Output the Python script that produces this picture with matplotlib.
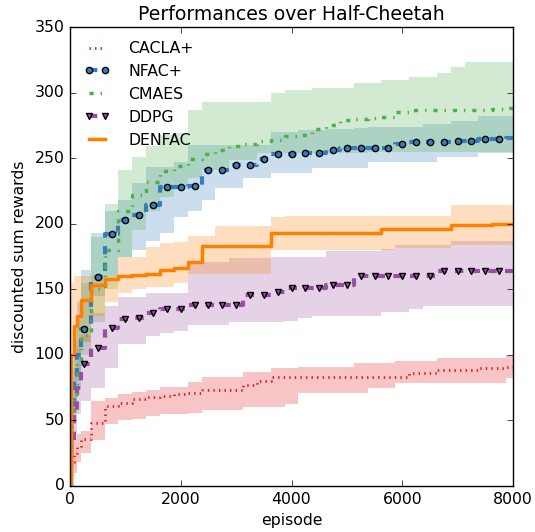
import matplotlib
matplotlib.use('Agg')
import matplotlib.pyplot as plt

# episodes at which the curves are sampled
episodes = [0, 50, 100, 150, 250, 500, 750, 1000, 1250, 1500, 1750, 2000, 2250, 2500,
            2750, 3000, 3250, 3500, 3750, 4000, 4250, 4500, 4750, 5000, 5250, 5500,
            5750, 6000, 6250, 6500, 6750, 7000, 7250, 7500, 7750, 8000]

# CACLA+
cacla = [0, 18, 25, 30, 36, 48, 61, 63.5, 66, 67.5, 68.5, 70, 71, 73, 73, 73, 77, 80,
         83.4, 83.4, 83.4, 83.4, 83.4, 83.4, 83.4, 83.4, 83.4, 83.4, 86, 86, 88.5, 88.5,
         88.5, 89.8, 90, 91]
cacla_low = [0, 5, 10, 18, 25, 35, 47, 50, 51, 53, 55, 55, 56, 58, 58, 58, 60.5, 60.5,
             60.5, 62.6, 70.7, 70.7, 70.7, 70.7, 70.7, 74.5, 74.5, 78.4, 78.4, 78.4, 78.4,
             78.4, 78.4, 78.4, 78.4, 82]
cacla_high = [5, 30, 36, 40, 42, 65, 67, 70, 72, 73, 75.7, 75.7, 79.6, 83.4, 83.4, 83.4,
              87, 87, 89.8, 89.8, 90.6, 90.6, 90.6, 91, 93.6, 93.6, 93.6, 95.3, 95.3, 95.3,
              97.4, 97.4, 97.4, 97.4, 97.4, 100]

# NFAC+
nfac = [0, 55, 80, 100, 120, 159, 192, 203, 207, 214, 228, 228, 229, 241, 241, 245, 245,
        249, 253, 253, 254, 254, 256, 258, 258, 258, 258, 261, 262, 262.5, 262.5, 263,
        263, 264.5, 264.5, 265]
nfac_low = [0, 30, 60, 80, 110, 145, 160, 175, 180, 187, 193, 205, 210, 218, 227, 227,
            234.6, 234.6, 238.5, 238.5, 239, 242.3, 242.3, 242.3, 242.3, 247.4, 247.4,
            247.4, 247.4, 247.4, 251, 251, 251, 253.7, 253.7, 253.7]
nfac_high = [10, 90, 120, 140, 165, 193, 210, 218, 231, 243.6, 243.6, 247, 260, 260, 260,
             260, 260, 260, 270, 270, 271.5, 271.5, 272, 272, 273, 274, 274, 274, 274, 276,
             276, 278, 278, 282.5, 282.5, 282.5]

# CMAES
cmaes = [0, 45, 70, 95, 115, 150, 180, 210, 222, 232, 240, 244, 249, 253, 256, 259, 261,
         263, 264, 267, 268, 272, 275, 279, 280, 280.5, 281, 285, 286.5, 286.8, 286.8,
         286.8, 286.8, 287, 287.5, 288]
cmaes_low = [0, 30, 55, 75, 100, 125, 150, 175, 195, 210, 220, 228, 235, 241, 241, 248.7,
             248.7, 253.7, 253.7, 253.7, 253.7, 254, 254, 254, 254, 254.5, 254.5, 255, 255,
             255, 255, 255, 255, 255, 255, 255]
cmaes_high = [10, 80, 110, 130, 155, 190, 215, 241, 251, 259, 268, 269, 287, 293, 293,
              293, 293, 293, 299.5, 302, 302, 303.3, 303.3, 303.3, 307.5, 307.5, 309.7,
              309.7, 311.7, 311.7, 314.8, 319.8, 323.6, 323.6, 323.6, 323.6]

# DDPG
ddpg = [0, 30, 55, 75, 93, 105, 120.8, 127, 128.4, 131.7, 135, 135, 138, 138, 138, 138,
        145.7, 145.7, 148, 151, 151, 151, 153, 153, 160.4, 160.4, 160.4, 160.4, 160.4,
        160.4, 164, 164, 164, 164, 164, 164]
ddpg_low = [0, 20, 40, 55, 65, 75, 90, 108, 108, 114, 117, 118, 123, 123, 123, 125, 125,
            125, 125, 126, 128, 129.7, 129.7, 129.7, 129.7, 129.7, 133, 133, 134.8, 137.3,
            137.3, 137.3, 137.3, 137.3, 137.3, 137.3]
ddpg_high = [10, 60, 90, 105, 115, 132, 137, 144, 144, 147, 147, 147, 171, 171, 171, 174,
             174, 174, 175, 175, 175, 175, 179.5, 179.5, 179.5, 179.5, 181, 184, 184, 184,
             184, 187, 187, 187, 187, 187]

# DENFAC
denfac = [0, 100, 122, 130, 142, 153, 158, 160, 161, 162, 165, 166, 171, 183, 183, 183,
          183, 183, 192.7, 192.7, 192.7, 192.7, 192.7, 192.7, 192.7, 192.7, 196.3, 196.3,
          196.3, 196.3, 196.3, 198.8, 198.8, 198.8, 200, 200]
denfac_low = [0, 60, 85, 100, 110, 130, 140, 147, 150, 152, 152, 155, 162, 162, 162, 162,
              162, 162, 180, 180, 180, 180, 180, 180, 180, 180, 180, 181.3, 181.3, 181.3,
              181.3, 183.8, 183.8, 183.8, 183.8, 183.8]
denfac_high = [20, 155, 160, 160, 160, 160, 160, 175, 175, 182, 185, 186, 191, 191, 198,
               198, 198, 198, 205, 206, 206, 206, 206, 206, 206, 206, 206, 206, 206, 206,
               206, 214.3, 214.3, 214.3, 214.3, 214.3]

# markers every 250 episodes (not at 0 nor at the last point)
mark_idx = [i for i, e in enumerate(episodes) if e % 250 == 0 and 0 < e < 8000]

plt.style.use('classic')
plt.rcParams['font.family'] = ['DejaVu Sans']
plt.rcParams['font.size'] = 11.3

fig = plt.figure(figsize=(5.35, 5.32), dpi=100, facecolor='white')
ax = fig.add_axes([70 / 535, 46 / 532, 443 / 535, 459 / 532])

red = '#e41a1c'
blue = '#377eb8'
green = '#4daf4a'
purple = '#984ea3'
orange = '#ff7f00'

# shaded bands
ax.fill_between(episodes, cacla_low, cacla_high, step='mid', color=red, alpha=0.25, lw=0)
ax.fill_between(episodes, nfac_low, nfac_high, step='mid', color=blue, alpha=0.25, lw=0)
ax.fill_between(episodes, cmaes_low, cmaes_high, step='mid', color=green, alpha=0.25, lw=0)
ax.fill_between(episodes, ddpg_low, ddpg_high, step='mid', color=purple, alpha=0.25, lw=0)
ax.fill_between(episodes, denfac_low, denfac_high, step='mid', color=orange, alpha=0.25, lw=0)

# mean curves
ax.plot(episodes, cacla, drawstyle='steps-mid', color=red, ls=':', lw=2, label='CACLA+')
ax.plot(episodes, nfac, drawstyle='steps-mid', color=blue, ls='--', lw=3, marker='o',
        ms=4.5, mfc=blue, mec='black', mew=1, markevery=mark_idx, label='NFAC+')
ax.plot(episodes, cmaes, drawstyle='steps-mid', color=green, ls='-.', lw=2.5, label='CMAES')
ax.plot(episodes, ddpg, drawstyle='steps-mid', color=purple, ls='--', lw=3, marker='v',
        ms=5, mfc=purple, mec='black', mew=1, markevery=mark_idx, label='DDPG')
ax.plot(episodes, denfac, drawstyle='steps-mid', color=orange, ls='-', lw=2.5, label='DENFAC')

ax.set_xlim(0, 8000)
ax.set_ylim(0, 350)
ax.set_xticks([0, 2000, 4000, 6000, 8000])
ax.set_yticks([0, 50, 100, 150, 200, 250, 300, 350])
ax.set_title('Performances over Half-Cheetah', fontsize=13.6)
ax.set_xlabel('episode')
ax.set_ylabel('discounted sum rewards')

ax.legend(loc='upper left', frameon=False, numpoints=2, handlelength=1.6,
          handletextpad=1.2, fontsize=11.3, labelspacing=0.5)

fig.savefig('out.png', dpi=100, facecolor='white')
